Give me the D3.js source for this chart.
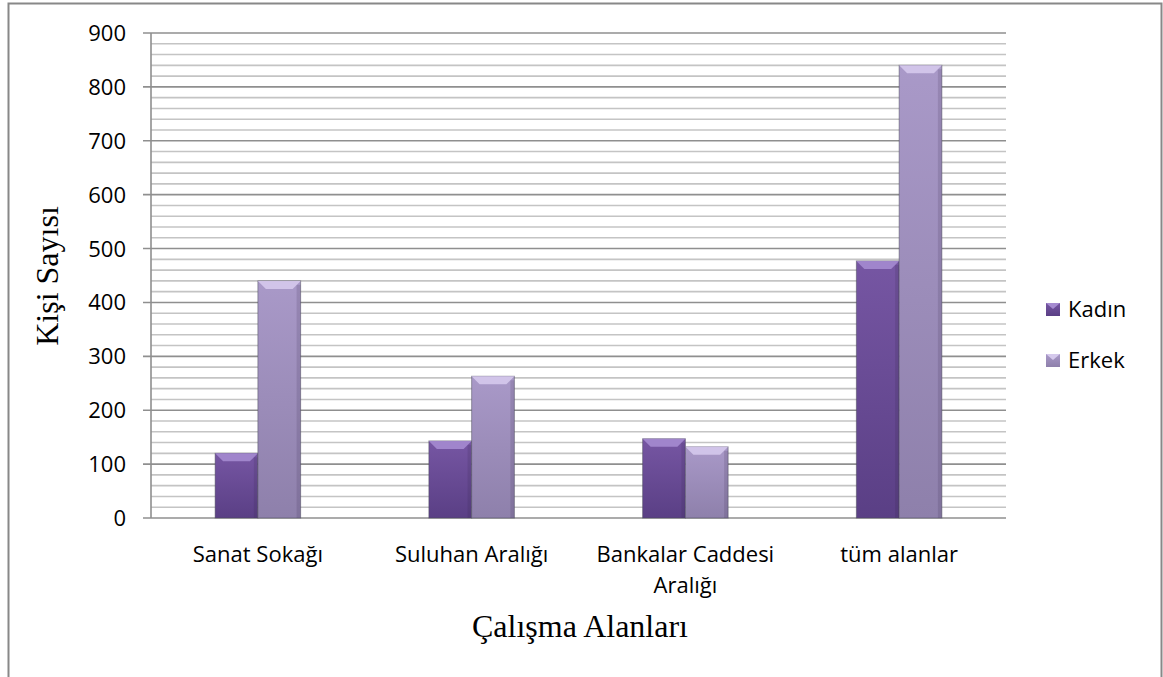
<!DOCTYPE html>
<html>
<head>
<meta charset="utf-8">
<script src="https://cdn.jsdelivr.net/npm/d3@7"></script>
<style>
  body { margin: 0; background: #fff; }
</style>
</head>
<body>
<svg id="chart" width="1163" height="677"></svg>
<script>
const categories = ['Sanat Sokağı', 'Suluhan Aralığı', 'Bankalar Caddesi Aralığı', 'tüm alanlar']
const categoryLines = [['Sanat Sokağı'], ['Suluhan Aralığı'], ['Bankalar Caddesi', 'Aralığı'], ['tüm alanlar']]
const seriesNames = ['Kadın', 'Erkek']
const kadin = [120, 143, 147, 477]
const erkek = [440, 263, 132, 840]
const yTicks = [0, 100, 200, 300, 400, 500, 600, 700, 800, 900]

const colors = { 'Kadın': ['#5a3f85', '#7656a3', '#a58bd0'], 'Erkek': ['#8e80ab', '#a999c8', '#d5c9ec'] }

var margin = { top: 33, left: 151, right: 1006, bottom: 518 }
var svg = d3.select('#chart')

// outer frame
svg.append('path')
    .attr('d', 'M8.5,677 L8.5,3.5 L1161.5,3.5 L1161.5,677')
    .attr('fill', 'none')
    .attr('stroke', '#888')
    .attr('stroke-width', 2)

var x0 = d3.scaleBand().domain(categories).range([margin.left, margin.right]).paddingInner(0.6).paddingOuter(0.3)
var x1 = d3.scaleBand().domain(seriesNames).range([0, x0.bandwidth()])
var y = d3.scaleLinear().domain([0, 900]).range([margin.bottom, margin.top])

// gridlines: minor every 20, major every 100
var minor = d3.range(20, 900, 20).filter(v => v % 100 != 0)
svg.append('g').selectAll('line').data(minor).enter().append('line')
    .attr('x1', margin.left).attr('x2', margin.right)
    .attr('y1', d => y(d)).attr('y2', d => y(d))
    .attr('stroke', '#c4c4c4').attr('stroke-width', 1.6)

svg.append('g').selectAll('line').data(yTicks).enter().append('line')
    .attr('x1', margin.left - 8).attr('x2', margin.right)
    .attr('y1', d => y(d)).attr('y2', d => y(d))
    .attr('stroke', '#8f8f8f').attr('stroke-width', 1.6)

svg.append('line')
    .attr('x1', margin.left).attr('x2', margin.left)
    .attr('y1', margin.top).attr('y2', margin.bottom)
    .attr('stroke', '#8f8f8f').attr('stroke-width', 1.6)

// y tick labels
svg.append('g').selectAll('text').data(yTicks).enter().append('text')
    .attr('x', 126).attr('y', d => y(d) + 8)
    .attr('text-anchor', 'end')
    .attr('font-family', 'Open Sans, sans-serif')
    .attr('font-size', '22px')
    .attr('fill', '#000')
    .text(d => d)

// gradients per series
var defs = svg.append('defs')
seriesNames.forEach(function (s, i) {
    var g = defs.append('linearGradient').attr('id', 'grad' + i)
        .attr('x1', 0).attr('x2', 0).attr('y1', 0).attr('y2', 1)
    g.append('stop').attr('offset', '0%').attr('stop-color', colors[s][1])
    g.append('stop').attr('offset', '100%').attr('stop-color', colors[s][0])
})

var rows = []
categories.forEach(function (c, i) {
    rows.push({ cat: c, s: 'Kadın', si: 0, v: kadin[i] })
    rows.push({ cat: c, s: 'Erkek', si: 1, v: erkek[i] })
})

var bars = svg.append('g').selectAll('g').data(rows).enter().append('g')
    .attr('transform', d => 'translate(' + (x0(d.cat) + x1(d.s)) + ',0)')

var bw = x1.bandwidth()
bars.append('rect')
    .attr('x', 0).attr('y', d => y(d.v))
    .attr('width', bw).attr('height', d => y(0) - y(d.v))
    .attr('fill', d => 'url(#grad' + d.si + ')')
    .attr('stroke', '#4a4a5a').attr('stroke-opacity', 0.5).attr('stroke-width', 1)

// bevel on top edge
bars.append('path')
    .attr('d', d => {
        var t = y(d.v), b = 8
        return 'M0,' + t + ' L' + bw + ',' + t + ' L' + (bw - b) + ',' + (t + b) + ' L' + b + ',' + (t + b) + ' Z'
    })
    .attr('fill', d => colors[d.s][2])
    .attr('opacity', 0.9)

// side shading
bars.append('rect')
    .attr('x', bw - 4).attr('y', d => y(d.v) + 4)
    .attr('width', 4).attr('height', d => Math.max(0, y(0) - y(d.v) - 4))
    .attr('fill', '#2d2040').attr('opacity', 0.15)

// category labels
var labels = svg.append('g').selectAll('text').data(categories).enter().append('text')
    .attr('x', d => x0(d) + x0.bandwidth() / 2)
    .attr('y', 562)
    .attr('text-anchor', 'middle')
    .attr('font-family', 'Open Sans, sans-serif')
    .attr('font-size', '22px')
    .attr('fill', '#000')
labels.each(function (d, i) {
    var t = d3.select(this)
    categoryLines[i].forEach(function (line, j) {
        t.append('tspan').attr('x', x0(d) + x0.bandwidth() / 2).attr('dy', j == 0 ? 0 : 31).text(line)
    })
})

// axis titles
svg.append('text')
    .attr('transform', 'translate(58,276) rotate(-90)')
    .attr('text-anchor', 'middle')
    .attr('font-family', 'Liberation Serif, Times New Roman, serif')
    .attr('font-size', '32px')
    .text('Kişi Sayısı')

svg.append('text')
    .attr('x', 580).attr('y', 637)
    .attr('text-anchor', 'middle')
    .attr('font-family', 'Liberation Serif, Times New Roman, serif')
    .attr('font-size', '32px')
    .text('Çalışma Alanları')

// legend
var legend = svg.append('g').selectAll('g').data(seriesNames).enter().append('g')
    .attr('transform', (d, i) => 'translate(1046,' + (303 + i * 51) + ')')
legend.append('rect')
    .attr('width', 14).attr('height', 13)
    .attr('fill', (d, i) => 'url(#grad' + i + ')')
legend.append('path')
    .attr('d', 'M0,0 L14,0 L7,6 Z')
    .attr('fill', d => colors[d][2])
legend.append('text')
    .attr('x', 22).attr('y', 14)
    .attr('font-family', 'Open Sans, sans-serif')
    .attr('font-size', '22px')
    .text(d => d)
</script>
</body>
</html>
